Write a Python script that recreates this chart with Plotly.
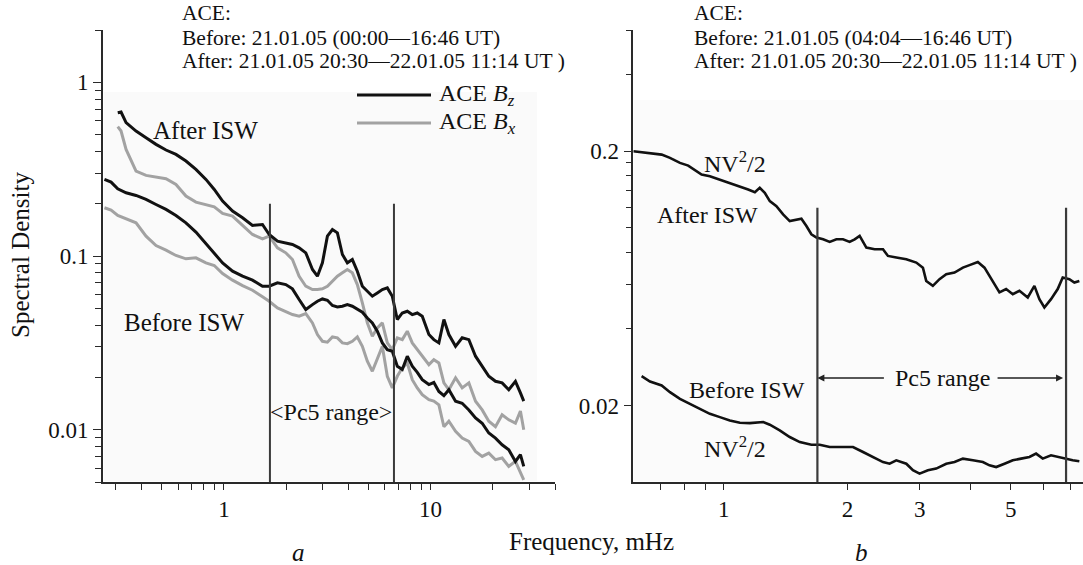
import math
import plotly.graph_objects as go

# ---------------- data ----------------
# Panel a: frequency (mHz) grids
freq_a_after = [0.3064, 0.3179, 0.3362, 0.3757, 0.4200, 0.4694, 0.5245, 0.5862, 0.6551, 0.7321,
                0.8185, 0.8981, 0.9853, 1.101, 1.231, 1.375, 1.537, 1.656, 1.816, 1.993,
                2.146, 2.312, 2.490, 2.682, 2.835, 2.997, 3.168, 3.350, 3.541, 3.744,
                3.957, 4.183, 4.422, 4.676, 4.943, 5.226, 5.525, 5.842, 6.176, 6.528,
                6.902, 7.297, 7.715, 8.155, 8.622, 9.115, 9.815, 10.37, 10.97, 11.60,
                12.26, 13.21, 14.22, 15.32, 16.50, 17.77, 19.13, 20.61, 22.19, 23.90,
                25.74, 27.21, 28.24]
freq_a_before = [0.2642, 0.2845, 0.3064, 0.3362, 0.3757, 0.4200, 0.4694, 0.5245, 0.5862, 0.6551,
                 0.7321, 0.8185, 0.8981, 0.9853, 1.101, 1.231, 1.375, 1.537, 1.656, 1.816,
                 1.993, 2.146, 2.312, 2.490, 2.682, 2.835, 2.997, 3.168, 3.350, 3.541,
                 3.744, 3.957, 4.183, 4.422, 4.676, 4.943, 5.226, 5.525, 5.842, 6.176,
                 6.528, 6.902, 7.297, 7.715, 8.155, 8.622, 9.115, 9.815, 10.37, 10.97,
                 11.60, 12.26, 13.21, 14.22, 15.32, 16.50, 17.77, 19.13, 20.61, 22.19,
                 23.90, 25.74, 27.21, 28.24]

after_bz = [0.6685, 0.6745, 0.5855, 0.5241, 0.4799, 0.4392, 0.4074, 0.3846, 0.3520, 0.3151,
            0.2760, 0.2416, 0.2070, 0.1813, 0.1660, 0.1499, 0.1519, 0.1330, 0.1217, 0.1191,
            0.1165, 0.1115, 0.1043, 0.0836, 0.0765, 0.0913, 0.1301, 0.1421, 0.1360, 0.1020,
            0.0913, 0.0954, 0.0818, 0.0670, 0.0627, 0.0587, 0.0613, 0.0641, 0.0655, 0.0587,
            0.0431, 0.0470, 0.0481, 0.0460, 0.0470, 0.0450, 0.0353, 0.0330, 0.0316, 0.0431,
            0.0353, 0.0302, 0.0338, 0.0330, 0.0265, 0.0232, 0.0203, 0.0190, 0.0186, 0.0170,
            0.0190, 0.0163, 0.0146]
after_bx = [0.5552, 0.5241, 0.4110, 0.3083, 0.2911, 0.2860, 0.2785, 0.2583, 0.2213, 0.2043,
            0.1980, 0.1920, 0.1758, 0.1697, 0.1499, 0.1330, 0.1256, 0.1301, 0.1115, 0.1043,
            0.0954, 0.0765, 0.0670, 0.0641, 0.0641, 0.0647, 0.0670, 0.0716, 0.0765, 0.0800,
            0.0836, 0.0800, 0.0685, 0.0537, 0.0412, 0.0345, 0.0385, 0.0412, 0.0316, 0.0289,
            0.0338, 0.0330, 0.0369, 0.0316, 0.0289, 0.0265, 0.0237, 0.0253, 0.0242, 0.0186,
            0.0170, 0.0199, 0.0174, 0.0186, 0.0146, 0.0130, 0.0112, 0.0104, 0.0122, 0.0114,
            0.0109, 0.0128, 0.0100]
before_bz = [0.2760, 0.2664, 0.2438, 0.2312, 0.2232, 0.2117, 0.1980, 0.1854, 0.1712, 0.1553,
             0.1372, 0.1180, 0.1043, 0.0913, 0.0818, 0.0765, 0.0726, 0.0670, 0.0670, 0.0701,
             0.0685, 0.0647, 0.0562, 0.0492, 0.0525, 0.0549, 0.0566, 0.0556, 0.0519, 0.0509,
             0.0514, 0.0525, 0.0514, 0.0492, 0.0475, 0.0440, 0.0412, 0.0369, 0.0316, 0.0289,
             0.0283, 0.0232, 0.0222, 0.0265, 0.0232, 0.0214, 0.0194, 0.0182, 0.0187, 0.0166,
             0.0157, 0.0170, 0.0146, 0.0142, 0.0130, 0.0117, 0.0109, 0.00957, 0.00895, 0.00819,
             0.00767, 0.00657, 0.00718, 0.00615]
before_bx = [0.1895, 0.1837, 0.1712, 0.1638, 0.1553, 0.1301, 0.1149, 0.1080, 0.1007, 0.0963,
             0.0976, 0.0913, 0.0882, 0.0793, 0.0726, 0.0676, 0.0635, 0.0582, 0.0549, 0.0503,
             0.0481, 0.0460, 0.0450, 0.0466, 0.0412, 0.0353, 0.0323, 0.0319, 0.0342, 0.0338,
             0.0316, 0.0313, 0.0323, 0.0342, 0.0302, 0.0248, 0.0217, 0.0253, 0.0302, 0.0203,
             0.0174, 0.0203, 0.0227, 0.0242, 0.0194, 0.0174, 0.0159, 0.0149, 0.0146, 0.0139,
             0.0104, 0.0112, 0.00978, 0.00895, 0.00857, 0.00750, 0.00702, 0.00733, 0.00672, 0.00687,
             0.00615, 0.00657, 0.00563, 0.00515]

# Panel b: NV^2/2 spectra
freq_b_after = [0.6017, 0.6246, 0.6607, 0.7054, 0.7390, 0.7816, 0.8187, 0.8582, 0.8824, 0.9245,
                0.9779, 1.034, 1.094, 1.146, 1.190, 1.223, 1.258, 1.294, 1.343, 1.394,
                1.447, 1.502, 1.545, 1.589, 1.634, 1.681, 1.745, 1.811, 1.880, 1.951,
                2.025, 2.083, 2.142, 2.224, 2.330, 2.442, 2.511, 2.631, 2.783, 2.943,
                3.055, 3.112, 3.230, 3.353, 3.482, 3.648, 3.823, 3.968, 4.157, 4.315,
                4.521, 4.693, 4.872, 5.058, 5.250, 5.501, 5.710, 5.872, 6.039, 6.268,
                6.508, 6.693, 6.947, 7.145, 7.348]
nv_after = [0.2000, 0.1983, 0.1959, 0.1941, 0.1884, 0.1800, 0.1757, 0.1670, 0.1620, 0.1596,
            0.1549, 0.1502, 0.1458, 0.1415, 0.1381, 0.1436, 0.1373, 0.1273, 0.1217, 0.1129,
            0.1063, 0.1080, 0.1086, 0.1016, 0.0943, 0.0915, 0.0901, 0.0880, 0.0901, 0.0901,
            0.0880, 0.0901, 0.0929, 0.0836, 0.0823, 0.0823, 0.0775, 0.0764, 0.0752, 0.0730,
            0.0697, 0.0618, 0.0591, 0.0628, 0.0657, 0.0667, 0.0697, 0.0713, 0.0734, 0.0697,
            0.0618, 0.0557, 0.0574, 0.0548, 0.0565, 0.0532, 0.0591, 0.0524, 0.0486, 0.0524,
            0.0574, 0.0638, 0.0628, 0.0609, 0.0618]
freq_b_before = [0.6303, 0.6607, 0.7054, 0.7390, 0.7816, 0.8266, 0.8741, 0.9245, 0.9779, 1.034,
                 1.094, 1.157, 1.247, 1.294, 1.368, 1.447, 1.531, 1.634, 1.712, 1.811,
                 1.951, 2.064, 2.183, 2.308, 2.442, 2.534, 2.631, 2.783, 2.888, 2.998,
                 3.142, 3.291, 3.482, 3.648, 3.823, 4.043, 4.276, 4.438, 4.607, 4.828,
                 5.058, 5.299, 5.553, 5.764, 5.984, 6.268, 6.508, 6.819, 7.079, 7.348]
nv_before = [0.02608, 0.02484, 0.02397, 0.02256, 0.02124, 0.02031, 0.01941, 0.01855, 0.01800, 0.01747,
             0.01710, 0.01705, 0.01721, 0.01680, 0.01596, 0.01503, 0.01436, 0.01402, 0.01402, 0.01373,
             0.01373, 0.01373, 0.01312, 0.01254, 0.01198, 0.01180, 0.01217, 0.01180, 0.01112, 0.01079,
             0.01112, 0.01129, 0.01180, 0.01198, 0.01236, 0.01217, 0.01198, 0.01163, 0.01145, 0.01180,
             0.01217, 0.01236, 0.01254, 0.01293, 0.01236, 0.01274, 0.01254, 0.01228, 0.01217, 0.01206]

# Pc5 band limits (mHz) and marker-line heights
pc5_a = [1.67, 6.65]
pc5_b = [1.69, 6.82]
pc5_a_ylim = [0.005, 0.2]
pc5_b_ylim = [0.01, 0.12]

# Axis ticks
xa_major = [1, 10]
xa_minor = [0.3, 0.4, 0.5, 0.6, 0.7, 0.8, 0.9, 2, 3, 4, 5, 6, 7, 8, 9, 20, 30, 40]
ya_major = [0.01, 0.1, 1]
ya_minor = [0.005, 0.006, 0.007, 0.008, 0.009, 0.02, 0.03, 0.04, 0.05, 0.06, 0.07, 0.08, 0.09,
            0.2, 0.3, 0.4, 0.5, 0.6, 0.7, 0.8, 0.9, 2]
xb_major = [1, 2, 3, 5]
xb_minor = [0.7, 0.8, 0.9, 4, 6, 7]
yb_major = [0.02, 0.2]
yb_minor = [0.04, 0.06, 0.08, 0.1, 0.12, 0.14, 0.16, 0.18, 0.4, 0.6]

# ---------------- layout helpers ----------------
W, H = 1083, 565
ML, MR, MT, MB = 103, 0, 30, 83
PW = W - ML - MR
PH = H - MT - MB


def px(x):
    return (x - ML) / PW


def py(y):
    return (H - MB - y) / PH


FONT = "Liberation Serif"
BLACK = "#111111"
GRAY = "#a2a2a2"
AXC = "#2a2a2a"
LINEC = "#3a3a3a"

fig = go.Figure()

# panel a curves
fig.add_trace(go.Scatter(x=freq_a_after, y=after_bx, mode="lines", line=dict(color=GRAY, width=3),
                         xaxis="x", yaxis="y", showlegend=False))
fig.add_trace(go.Scatter(x=freq_a_before, y=before_bx, mode="lines", line=dict(color=GRAY, width=3),
                         xaxis="x", yaxis="y", showlegend=False))
fig.add_trace(go.Scatter(x=freq_a_after, y=after_bz, mode="lines", line=dict(color=BLACK, width=3),
                         xaxis="x", yaxis="y", showlegend=False))
fig.add_trace(go.Scatter(x=freq_a_before, y=before_bz, mode="lines", line=dict(color=BLACK, width=3),
                         xaxis="x", yaxis="y", showlegend=False))
for f in pc5_a:
    fig.add_trace(go.Scatter(x=[f, f], y=pc5_a_ylim, mode="lines", line=dict(color=LINEC, width=2),
                             xaxis="x", yaxis="y", showlegend=False))

# panel b curves
fig.add_trace(go.Scatter(x=freq_b_after, y=nv_after, mode="lines", line=dict(color=BLACK, width=2.6),
                         xaxis="x2", yaxis="y2", showlegend=False))
fig.add_trace(go.Scatter(x=freq_b_before, y=nv_before, mode="lines", line=dict(color=BLACK, width=2.6),
                         xaxis="x2", yaxis="y2", showlegend=False))
for f in pc5_b:
    fig.add_trace(go.Scatter(x=[f, f], y=pc5_b_ylim, mode="lines", line=dict(color=LINEC, width=2.2),
                             xaxis="x2", yaxis="y2", showlegend=False))

tickfont = dict(family=FONT, size=23, color="#111111")


def axis(major, minor, rng, domain, anchor, ticklen, minorlen):
    return dict(type="log", showgrid=False, zeroline=False, showline=True, linecolor=AXC, linewidth=1.6,
                ticks="outside", tickcolor=AXC, tickwidth=1.4, tickfont=tickfont,
                tickmode="array", tickvals=major, ticktext=[("%g" % v) for v in major],
                ticklen=ticklen, range=rng, domain=domain, anchor=anchor,
                minor=dict(tickmode="array", tickvals=minor, ticks="outside", ticklen=minorlen,
                           tickcolor=AXC, tickwidth=1.4, showgrid=False))


fig.update_layout(
    width=W, height=H,
    margin=dict(l=ML, r=MR, t=MT, b=MB),
    paper_bgcolor="white", plot_bgcolor="rgba(0,0,0,0)",
    showlegend=False,
    xaxis=axis(xa_major, xa_minor, [math.log10(0.26), math.log10(40)], [0, px(555)], "y", 6, 6),
    yaxis=axis(ya_major, ya_minor, [math.log10(0.005), math.log10(2)], [0, 1], "x", 8, 6),
    xaxis2=axis(xb_major, xb_minor, [math.log10(0.6016), math.log10(7.5)], [px(633.3), 1], "y2", 6, 6),
    yaxis2=axis(yb_major, yb_minor, [math.log10(0.01), math.log10(0.6)], [0, 1], "x2", 8, 6),
)

shapes = [
    dict(type="rect", xref="paper", yref="paper", x0=px(104), x1=px(537), y0=py(481), y1=py(92),
         fillcolor="#fafafa", line=dict(width=0), layer="below"),
    dict(type="rect", xref="paper", yref="paper", x0=px(634), x1=1, y0=py(481), y1=py(100),
         fillcolor="#fbfbfb", line=dict(width=0), layer="below"),
    dict(type="line", xref="paper", yref="paper", x0=px(357), x1=px(431), y0=py(95), y1=py(95),
         line=dict(color=BLACK, width=3)),
    dict(type="line", xref="paper", yref="paper", x0=px(357), x1=px(431), y0=py(123), y1=py(123),
         line=dict(color=GRAY, width=3)),
]
fig.update_layout(shapes=shapes)


def label(text, x, y, size=24, xanchor="center", angle=0):
    return dict(text=text, x=px(x), y=py(y), xref="paper", yref="paper", showarrow=False,
                xanchor=xanchor, yanchor="middle", textangle=angle,
                font=dict(family=FONT, size=size, color="#111111"))


ann = []
# headers
for x0, before in ((180, "Before: 21.01.05 (00:00\u201416:46 UT)"),
                   (692, "Before: 21.01.05 (04:04\u201416:46 UT)")):
    ann.append(label("ACE:", x0, 13, 21.5, "left"))
    ann.append(label(before, x0, 38, 21.5, "left"))
    ann.append(label("After: 21.01.05 20:30\u201422.01.05 11:14 UT )", x0, 61, 21.5, "left"))
# legend texts
ann.append(label("ACE <i>B</i><sub><i>z</i></sub>", 437, 95, 24, "left"))
ann.append(label("ACE <i>B</i><sub><i>x</i></sub>", 437, 123, 24, "left"))
# panel a labels
ann.append(label("After ISW", 205, 130, 25))
ann.append(label("Before ISW", 184, 322, 25))
ann.append(label("&lt;Pc5 range&gt;", 331, 412, 24))
# panel b labels
ann.append(label("NV<sup>2</sup>/2", 735, 162, 24))
ann.append(label("After ISW", 707, 215, 24))
ann.append(label("Before ISW", 747, 390, 24))
ann.append(label("NV<sup>2</sup>/2", 735, 447, 24))
ann.append(label("Pc5 range", 942, 378, 24))
# arrows of the Pc5 band in panel b
ann.append(dict(text="", x=math.log10(pc5_b[0]), y=py(378), xref="x2", yref="paper",
                showarrow=True, ax=68, ay=0, arrowhead=2, arrowsize=1, arrowwidth=1.4, arrowcolor="#222222"))
ann.append(dict(text="", x=math.log10(pc5_b[1]), y=py(378), xref="x2", yref="paper",
                showarrow=True, ax=-70, ay=0, arrowhead=2, arrowsize=1, arrowwidth=1.4, arrowcolor="#222222",
                standoff=3))
# axis titles and panel letters
ann.append(label("Spectral Density", 20, 255, 25, angle=-90))
ann.append(label("Frequency, mHz", 591, 541, 25))
ann.append(label("<i>a</i>", 298, 552, 25))
ann.append(label("<i>b</i>", 861, 552, 25))
fig.update_layout(annotations=ann)

fig.write_html("out.html")
